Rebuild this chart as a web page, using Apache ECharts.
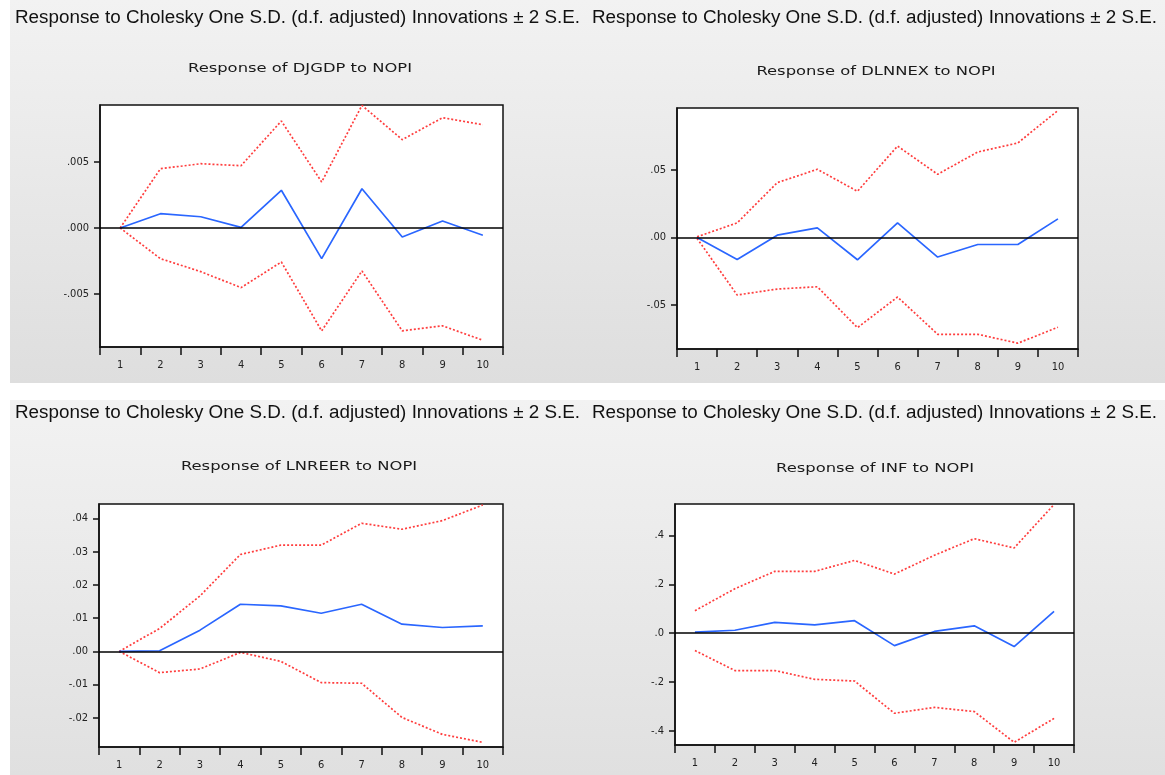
<!DOCTYPE html>
<html>
<head>
<meta charset="utf-8">
<script src="https://cdn.jsdelivr.net/npm/echarts@6/dist/echarts.min.js"></script>
<style>
  html, body { margin: 0; padding: 0; background: #ffffff; }
  #chart { width: 1165px; height: 775px; }
</style>
</head>
<body>
<div id="chart"></div>
<script>
// Impulse responses to a one S.D. NOPI shock, 10 periods, with ±2 S.E. bands
const periods = ['1', '2', '3', '4', '5', '6', '7', '8', '9', '10'];

const djgdpResponse = [0, 0.00108, 0.00085, 0.00005, 0.00285, -0.00232, 0.00297, -0.00068, 0.00053, -0.00055];
const djgdpUpper    = [0, 0.00448, 0.00486, 0.00471, 0.00809, 0.00348, 0.00927, 0.00668, 0.00834, 0.00781];
const djgdpLower    = [0, -0.00232, -0.00330, -0.00451, -0.00257, -0.00778, -0.00325, -0.00778, -0.00740, -0.00849];

const dlnnexResponse = [0, -0.0163, 0.0017, 0.0071, -0.0165, 0.0108, -0.0145, -0.0052, -0.0052, 0.0138];
const dlnnexUpper    = [0.0005, 0.0108, 0.0406, 0.0505, 0.0342, 0.0677, 0.0468, 0.0633, 0.0700, 0.0941];
const dlnnexLower    = [-0.0007, -0.0426, -0.0382, -0.0365, -0.0668, -0.0441, -0.0717, -0.0717, -0.0783, -0.0665];

const lnreerResponse = [0, 0.0002, 0.0064, 0.0142, 0.0137, 0.0115, 0.0142, 0.0082, 0.0072, 0.0077];
const lnreerUpper    = [0, 0.0069, 0.0167, 0.0292, 0.0320, 0.0320, 0.0386, 0.0368, 0.0394, 0.0441];
const lnreerLower    = [0, -0.0064, -0.0053, -0.0003, -0.0030, -0.0094, -0.0096, -0.0199, -0.0250, -0.0274];

const infResponse = [0.004, 0.012, 0.044, 0.034, 0.051, -0.051, 0.007, 0.030, -0.055, 0.089];
const infUpper    = [0.092, 0.182, 0.253, 0.253, 0.298, 0.242, 0.319, 0.387, 0.349, 0.527];
const infLower    = [-0.071, -0.153, -0.153, -0.189, -0.196, -0.328, -0.304, -0.321, -0.447, -0.349];

// y-axis tick values; labels drop the leading zero (".005", "-.05", ...)
const djgdpTicks  = [-0.005, 0, 0.005];
const dlnnexTicks = [-0.05, 0, 0.05];
const lnreerTicks = [-0.02, -0.01, 0, 0.01, 0.02, 0.03, 0.04];
const infTicks    = [-0.4, -0.2, 0, 0.2, 0.4];

const headerText = 'Response to Cholesky One S.D. (d.f. adjusted) Innovations \u00b1 2 S.E.';

const panels = [
  { title: 'Response of DJGDP to NOPI', resp: djgdpResponse, up: djgdpUpper, lo: djgdpLower,
    ticks: djgdpTicks, dec: 3, min: -0.009, max: 0.0093,
    grid: { left: 100, top: 105, width: 403, height: 242 }, titleX: 300, titleY: 69 },
  { title: 'Response of DLNNEX to NOPI', resp: dlnnexResponse, up: dlnnexUpper, lo: dlnnexLower,
    ticks: dlnnexTicks, dec: 2, min: -0.0826, max: 0.0959,
    grid: { left: 677, top: 108, width: 401, height: 241 }, titleX: 876, titleY: 72 },
  { title: 'Response of LNREER to NOPI', resp: lnreerResponse, up: lnreerUpper, lo: lnreerLower,
    ticks: lnreerTicks, dec: 2, min: -0.0288, max: 0.0444,
    grid: { left: 99, top: 504, width: 404, height: 243 }, titleX: 299, titleY: 467 },
  { title: 'Response of INF to NOPI', resp: infResponse, up: infUpper, lo: infLower,
    ticks: infTicks, dec: 1, min: -0.458, max: 0.529,
    grid: { left: 675, top: 504, width: 399, height: 241 }, titleX: 875, titleY: 469 }
];

const fmt = (dec) => (v) => v.toFixed(dec).replace('0.', '.');

const blue = '#2a66ff';
const red = '#ff3d3d';
const axisColor = '#111111';
const tickFont = 'DejaVu Sans Condensed, DejaVu Sans';

// Narrow-looking text: measure at a given font, then squeeze/stretch horizontally to a set width
const measureCtx = document.createElement('canvas').getContext('2d');
function textWidth(text, font) { measureCtx.font = font; return measureCtx.measureText(text).width; }

const headerFamily = 'Liberation Sans';
const headerSize = 18;
const headerScale = 565 / textWidth(headerText, headerSize + 'px "' + headerFamily + '"');

const titleFamily = 'DejaVu Sans';
const titleSize = 12;
const titleScale = 224 / textWidth(panels[0].title, titleSize + 'px "' + titleFamily + '"');

const grids = [], xAxes = [], yAxes = [], series = [];

// Window backgrounds
const graphics = [
  { type: 'rect', z: -10, silent: true, shape: { x: 10, y: 0, width: 1155, height: 383 },
    style: { fill: new echarts.graphic.LinearGradient(0, 0, 0, 1, [
      { offset: 0, color: '#f2f2f2' }, { offset: 1, color: '#dedede' } ]) } },
  { type: 'rect', z: -10, silent: true, shape: { x: 10, y: 400, width: 1155, height: 375 },
    style: { fill: new echarts.graphic.LinearGradient(0, 0, 0, 1, [
      { offset: 0, color: '#f2f2f2' }, { offset: 1, color: '#e0e0e0' } ]) } }
];

// Header line above each panel
[[15, 18], [592, 18], [15, 413], [592, 413]].forEach(([x, y]) => {
  graphics.push({
    type: 'text', z: 10, silent: true, x: x, y: y, scaleX: headerScale,
    style: { text: headerText, fontFamily: headerFamily, fontSize: headerSize, fill: '#111',
      textAlign: 'left', textVerticalAlign: 'middle' }
  });
});

panels.forEach((p, i) => {
  grids.push(Object.assign({
    show: true, backgroundColor: '#ffffff', borderColor: axisColor, borderWidth: 1.5,
    containLabel: false
  }, p.grid));

  graphics.push({
    type: 'text', z: 10, silent: true, x: p.titleX, y: p.titleY, scaleX: titleScale,
    style: { text: p.title, fontFamily: titleFamily, fontSize: titleSize, fill: '#1a1a1a',
      textAlign: 'center', textVerticalAlign: 'middle' }
  });

  xAxes.push({
    gridIndex: i, type: 'category', data: periods, boundaryGap: true,
    axisLine: { show: true, onZero: false, lineStyle: { color: axisColor, width: 1.5 } },
    axisTick: { show: true, interval: 0, length: 8, lineStyle: { color: axisColor, width: 1.5 } },
    axisLabel: { interval: 0, margin: 13, fontSize: 11, color: '#222', fontFamily: tickFont },
    splitLine: { show: false }
  });

  yAxes.push({
    gridIndex: i, type: 'value', min: p.min, max: p.max,
    axisLine: { show: true, onZero: false, lineStyle: { color: axisColor, width: 1.5 } },
    axisTick: { show: true, length: 6, customValues: p.ticks, lineStyle: { color: axisColor, width: 1.5 } },
    axisLabel: { customValues: p.ticks, formatter: fmt(p.dec), margin: 11, fontSize: 11, color: '#222',
      fontFamily: tickFont },
    splitLine: { show: false }
  });

  const common = { xAxisIndex: i, yAxisIndex: i, type: 'line', symbol: 'none', silent: true, animation: false };

  series.push(Object.assign({}, common, {
    name: 'upper' + i, data: p.up, z: 3,
    lineStyle: { color: red, width: 1.7, type: [2, 2] }
  }));
  series.push(Object.assign({}, common, {
    name: 'lower' + i, data: p.lo, z: 3,
    lineStyle: { color: red, width: 1.7, type: [2, 2] }
  }));
  series.push(Object.assign({}, common, {
    name: 'response' + i, data: p.resp, z: 4,
    lineStyle: { color: blue, width: 1.7 },
    markLine: {
      silent: true, symbol: 'none', label: { show: false }, animation: false,
      lineStyle: { color: '#000000', type: 'solid', width: 1.6 },
      data: [{ yAxis: 0 }]
    }
  }));
});

const chart = echarts.init(document.getElementById('chart'), null, { renderer: 'canvas' });
chart.setOption({
  animation: false,
  grid: grids,
  xAxis: xAxes,
  yAxis: yAxes,
  series: series,
  graphic: graphics
});
</script>
</body>
</html>
